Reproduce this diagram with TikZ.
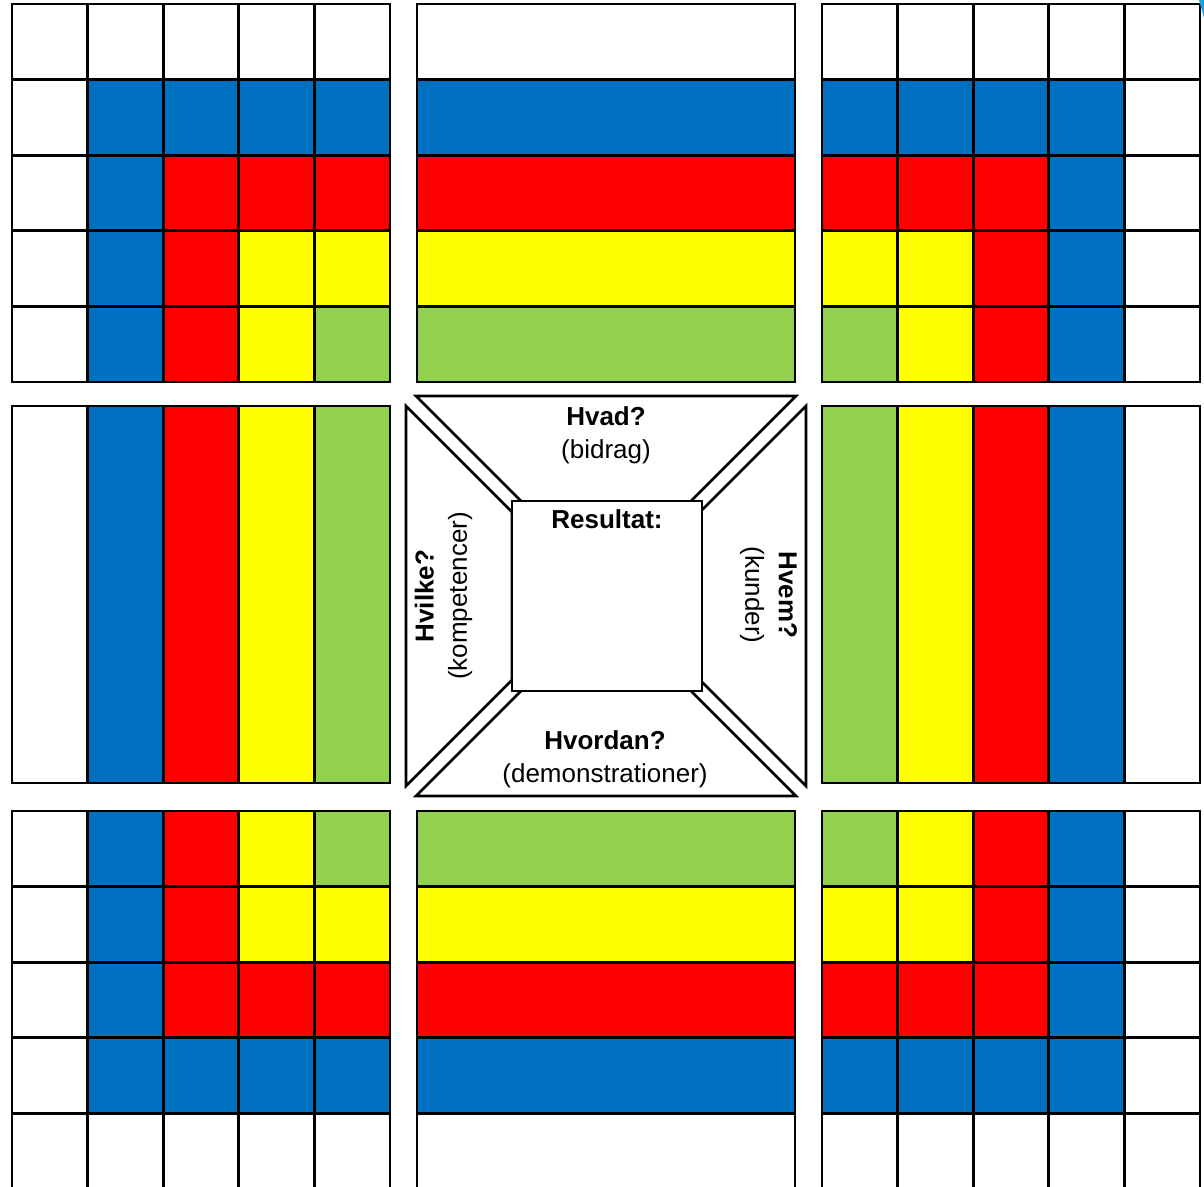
\documentclass[tikz,border=0pt]{standalone}
\usepackage{fontspec}
\setmainfont{Liberation Sans}
\usetikzlibrary{positioning}
\definecolor{lvl0}{HTML}{FFFFFF}
\definecolor{lvl1}{HTML}{0070C0}
\definecolor{lvl2}{HTML}{FF0000}
\definecolor{lvl3}{HTML}{FFFF00}
\definecolor{lvl4}{HTML}{92D050}
\definecolor{tcyan}{HTML}{1EA0E6}

\begin{document}
\begin{tikzpicture}[x=0.02cm,y=-0.02cm,
  cell/.style={draw=black,line width=1.5pt},
  panel/.style={draw=black,line width=1.5pt,fill=white},
  qtxt/.style={align=center,inner sep=0pt,font=\fontsize{14.8}{19}\selectfont},
  resbox/.style={draw=black,line width=1.5pt,fill=white,minimum size=3.8cm,inner sep=0pt}
]
\useasboundingbox (0,0) rectangle (1204,1187);

% corner blocks, colour level = distance from the outer edges
\foreach \ox/\oy/\mi/\mj in {12/4/0/0,822/4/0/1,12/811/1/0,822/811/1/1}
  \foreach \i in {0,...,4}
    \foreach \j in {0,...,4}{
      \pgfmathtruncatemacro{\lv}{min(abs(4*\mi-\i),abs(4*\mj-\j))}
      \filldraw[cell,fill=lvl\lv] ({\ox+\j*75.6},{\oy+\i*75.6}) rectangle +(75.6,75.6);
    }

% strip blocks
\foreach \i in {0,...,4}{
  \pgfmathtruncatemacro{\rv}{4-\i}
  \filldraw[cell,fill=lvl\i] (417,{4+\i*75.6}) rectangle +(378,75.6);
  \filldraw[cell,fill=lvl\rv] (417,{811+\i*75.6}) rectangle +(378,75.6);
  \filldraw[cell,fill=lvl\i] ({12+\i*75.6},406) rectangle +(75.6,377);
  \filldraw[cell,fill=lvl\rv] ({822+\i*75.6},406) rectangle +(75.6,377);
}

% centre frame
\filldraw[panel] (416,396) -- (796,396) -- (690,502) -- (522,502) -- cycle;
\filldraw[panel] (406,406) -- (406,786) -- (512,680) -- (512,512) -- cycle;
\filldraw[panel] (806,406) -- (806,786) -- (700,680) -- (700,512) -- cycle;
\filldraw[panel] (416,796) -- (796,796) -- (690,690) -- (522,690) -- cycle;
\node[resbox] (res) at (607,596) {};
\node[qtxt,font=\fontsize{14.8}{19}\selectfont\bfseries,below=5.7pt of res.north] (restxt) {Resultat:};

\node[qtxt] (hvad) at (606,435) {\textbf{Hvad?}\\(bidrag)};
\node[qtxt] (hvordan) at (605,759) {\textbf{Hvordan?}\\(demonstrationer)};
\node[qtxt,rotate=90] (hvilke) at (443.5,596) {\textbf{Hvilke?}\\(kompetencer)};
\node[qtxt,rotate=-90] (hvem) at (768.5,595) {\textbf{Hvem?}\\(kunder)};

\fill[tcyan] (1199,0) -- (1204,0) -- (1204,18) -- cycle;
\end{tikzpicture}
\end{document}
